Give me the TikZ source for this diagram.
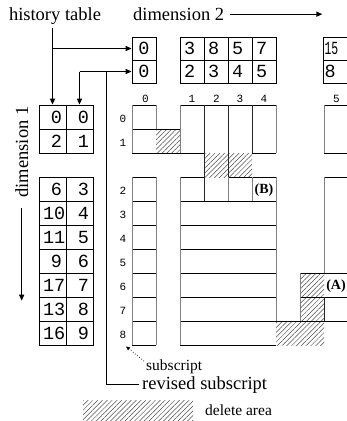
\documentclass[tikz,border=0pt]{standalone}
\usepackage{fontspec}
\setmainfont{Liberation Serif}
\newfontfamily\monof{Liberation Mono}
\usetikzlibrary{arrows.meta,patterns.meta}
\tikzset{
  hl/.style={line width=0.8pt, black},
  gl/.style={line width=1pt, black!50},
  dl/.style={line width=1pt, black!85},
  hatch/.style={pattern={Lines[angle=45,distance=3.4pt,line width=0.5pt]}, pattern color=black!70},
  conn/.style={line width=1.3pt, -{Triangle[length=6pt,width=5pt]}},
  link/.style={line width=1.3pt},
  dotarr/.style={line width=0.7pt, dotted, -{Triangle[length=4pt,width=3.5pt]}},
  cellA/.style={draw, line width=0.8pt, minimum width=27pt, minimum height=24pt, inner sep=0pt,
    text width=19pt, align=right, font=\monof\fontsize{18.5}{18.5}\selectfont},
  cellB/.style={draw, line width=0.8pt, minimum width=24pt, minimum height=23pt, inner sep=0pt,
    text width=16pt, align=left, font=\monof\fontsize{18.5}{18.5}\selectfont},
  sublab/.style={inner sep=0pt, font=\monof\fontsize{11}{11}\selectfont},
  biglab/.style={inner sep=0pt, font=\fontsize{18.5}{18.5}\selectfont},
  midlab/.style={inner sep=0pt, font=\fontsize{15.5}{15.5}\selectfont},
  marklab/.style={inner sep=0pt, font=\bfseries\fontsize{14}{14}\selectfont},
}
\begin{document}
\begin{tikzpicture}[x=1pt,y=-1pt]
\useasboundingbox (0,0) rectangle (347,421);
\clip (0,0) rectangle (347,421);

% ---------- labels ----------
\node[biglab, anchor=base] (ht) at (55,20.5) {history table};
\node[biglab, anchor=base west] (dtwo) at (133,20.5) {dimension 2};
\node[biglab, anchor=base, rotate=90] (done) at (28,152) {dimension 1};

% ---------- dimension-2 table ----------
\node[cellB, align=center] (d2a0) at (144,48.5) {0};
\node[cellB, align=center] (d2b0) at (144,71.5) {0};
\foreach \i/\x/\u/\l in {1/192/3/2, 2/216/8/3, 3/240/5/4, 4/264/7/5} {
  \node[cellB] (d2a\i) at (\x,48.5) {\u};
  \node[cellB] (d2b\i) at (\x,71.5) {\l};
}
\node[cellB, text width=22pt] (d2a5) at (335.5,48.5) {\scalebox{0.62}[1]{15}};
\node[cellB, text width=22pt] (d2b5) at (335.5,71.5) {8};

% ---------- dimension-1 table ----------
\node[cellA] (d1l0) at (52.5,117) {0};
\node[cellA] (d1r0) at (79.5,117) {0};
\node[cellA] (d1l1) at (52.5,141) {2};
\node[cellA] (d1r1) at (79.5,141) {1};
\foreach \i/\h/\s in {2/6/3, 3/10/4, 4/11/5, 5/9/6, 6/17/7, 7/13/8, 8/16/9} {
  \node[cellA] (d1l\i) at (52.5,{189+24*(\i-2)}) {\h};
  \node[cellA] (d1r\i) at (79.5,{189+24*(\i-2)}) {\s};
}

% ---------- subscripts ----------
\foreach \c/\x in {0/145.5, 1/192, 2/216.5, 3/240, 4/264, 5/336.5}
  \node[sublab] (c\c) at (\x,98.5) {\c};
\foreach \r/\y in {0/118.5, 1/142.5}
  \node[sublab] (r\r) at (123,\y) {\r};
\foreach \r in {2,...,8}
  \node[sublab] (r\r) at (123,{190.5+24*(\r-2)}) {\r};

% ---------- delete areas ----------
\path[hatch] (156,129) rectangle (180,153);
\path[hatch] (204,153) rectangle (252,177);
\path[hatch] (300,273) rectangle (324,321);
\path[hatch] (276,321) rectangle (324,345);

% ---------- array grid: horizontals ----------
\draw[hl] (132,105) -- (156,105);
\draw[hl] (180,105) -- (276,105);
\draw[hl] (324,105) -- (348,105);
\draw[hl] (132,129) -- (180,129);
\draw[hl] (132,153) -- (204,153);
\draw[hl] (252,153) -- (276,153);
\draw[hl] (324,153) -- (348,153);
\draw[hl] (180,177) -- (204,177);
\draw[hl] (228,177) -- (276,177);
\draw[hl] (324,177) -- (348,177);
\foreach \y in {201,225,249} \draw[hl] (180,\y) -- (276,\y);
\foreach \y in {273,297} {\draw[hl] (180,\y) -- (276,\y); \draw[hl] (300,\y) -- (348,\y);}
\draw[hl] (180,321) -- (348,321);
\draw[hl] (180,345) -- (276,345);
\foreach \y in {177,201,...,345} \draw[hl] (132,\y) -- (156,\y);

% ---------- array grid: verticals ----------
\draw[gl] (132,105) -- (132,153);
\draw[gl] (132,177) -- (132,345);
\draw[gl] (156,105) -- (156,129);
\draw[gl] (156,177) -- (156,345);
\draw[gl] (180,105) -- (180,153);
\draw[gl] (180,177) -- (180,345);
\draw[dl] (204,105) -- (204,201);
\draw[dl] (228,105) -- (228,177);
\draw[gl] (228,177) -- (228,201);
\draw[dl] (252,105) -- (252,153);
\draw[gl] (252,177) -- (252,201);
\draw[gl] (276,105) -- (276,153);
\draw[gl] (276,177) -- (276,321);
\draw[gl] (300,273) -- (300,321);
\draw[gl] (324,105) -- (324,153);
\draw[gl] (324,177) -- (324,273);
\draw[dl] (324,297) -- (324,321);

\node[marklab] (B) at (264,190) {(B)};
\node[marklab] (A) at (336,286) {(A)};

% ---------- connectors ----------
\draw[conn] ([yshift=-3pt]ht.south -| d1l0.north) -- (d1l0.north);
\draw[conn] (d2a0.west -| d1l0.north) -- (d2a0.west);
\draw[conn] ([xshift=6pt]dtwo.east) -- ++(92,0);
\draw[conn] ([yshift=-10pt]done.west) -- ++(0,93);

\node[biglab, anchor=base west, inner xsep=3pt] (rev) at (139,389) {revised subscript};
\path (d2b0.west) ++(-25,0) coordinate (rj);
\coordinate (hb) at (d2b0.west -| d1r0.north);
\draw[link] (rev.west) -| (rj);
\draw[conn] (hb) -- (d2b0.west);
\draw[conn] (hb) -- (d1r0.north);

\node[midlab, anchor=base west] (sub) at (146,370) {subscript};
\draw[dotarr] ([xshift=-2pt,yshift=-2pt]sub.north west) -- ([xshift=3pt,yshift=-8pt]r8.south);

% ---------- legend ----------
\path[hatch] (83,400) rectangle (193,420);
\node[midlab, anchor=base west] (del) at (205,415) {delete area};
\end{tikzpicture}
\end{document}
